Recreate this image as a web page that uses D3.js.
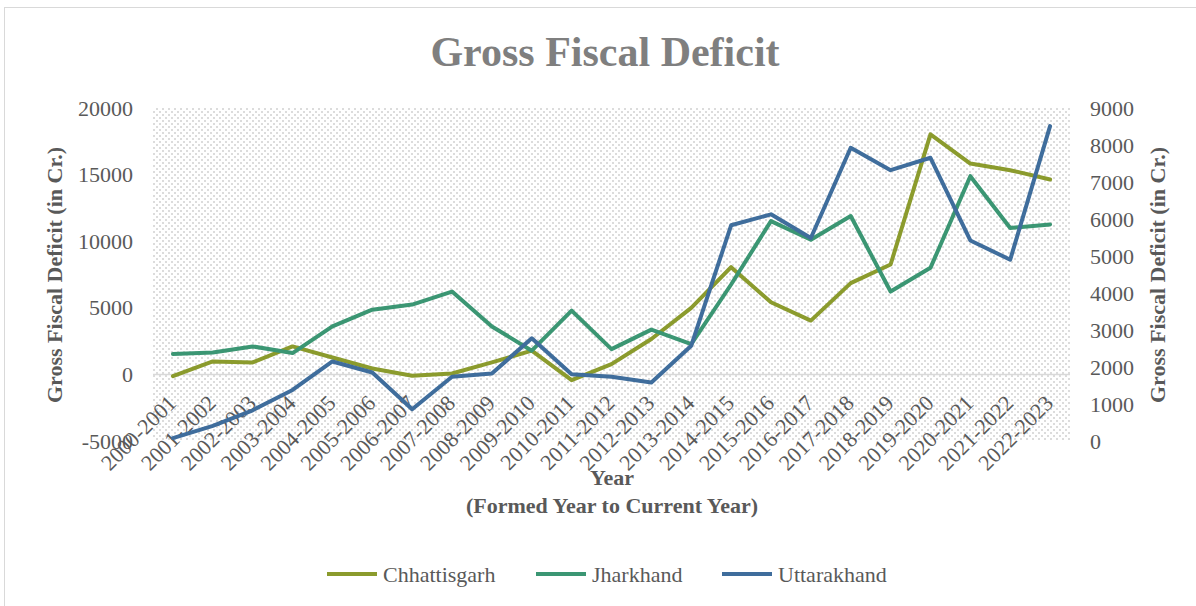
<!DOCTYPE html>
<html>
<head>
<meta charset="utf-8">
<script src="https://cdn.jsdelivr.net/npm/d3@7"></script>
<style>
  body { margin: 0; background: #fff; }
  text { font-family: "Liberation Serif", "Times New Roman", serif; }
</style>
</head>
<body>
<svg id="chart" width="1196" height="606"></svg>
<script>
// data
const years = ["2000-2001", "2001-2002", "2002-2003", "2003-2004", "2004-2005", "2005-2006",
  "2006-2007", "2007-2008", "2008-2009", "2009-2010", "2010-2011", "2011-2012", "2012-2013",
  "2013-2014", "2014-2015", "2015-2016", "2016-2017", "2017-2018", "2018-2019", "2019-2020",
  "2020-2021", "2021-2022", "2022-2023"]

// primary (left) axis
const chhattisgarh = [-130, 970, 900, 2100, 1270, 440, -100, 70, 900, 1780, -430, 775, 2660,
  4990, 8050, 5420, 4040, 6850, 8250, 18020, 15830, 15330, 14630]
const jharkhand = [1530, 1650, 2100, 1600, 3600, 4860, 5240, 6220, 3600, 1780, 4790, 1900, 3360,
  2280, 6750, 11510, 10110, 11890, 6220, 8000, 14880, 10990, 11260]

// secondary (right) axis
const uttarakhand = [80, 410, 830, 1380, 2150, 1850, 860, 1735, 1825, 2775, 1807, 1735, 1580,
  2575, 5830, 6126, 5485, 7925, 7320, 7655, 5420, 4900, 8510]

const leftTicks = [-5000, 0, 5000, 10000, 15000, 20000]
const rightTicks = [0, 1000, 2000, 3000, 4000, 5000, 6000, 7000, 8000, 9000]

const series = [
  { name: 'Chhattisgarh', values: chhattisgarh, color: '#8b9b2d', axis: 'left' },
  { name: 'Jharkhand', values: jharkhand, color: '#3b9673', axis: 'left' },
  { name: 'Uttarakhand', values: uttarakhand, color: '#3f6d9c', axis: 'right' }
]

let svg = d3.select('#chart')
let plot = { left: 153, right: 1070, top: 108, bottom: 441 }

let x = d3.scalePoint().domain(years).range([plot.left, plot.right]).padding(0.5)
let yL = d3.scaleLinear().domain([-5000, 20000]).range([plot.bottom, plot.top])
let yR = d3.scaleLinear().domain([0, 9000]).range([plot.bottom, plot.top])

// chart frame
svg.append('rect')
  .attr('x', 4.5).attr('y', 7.5)
  .attr('width', 1200).attr('height', 620)
  .attr('fill', '#fff')
  .attr('stroke', '#d9d9d9')

// plot area texture
let defs = svg.append('defs')
let pat = defs.append('pattern')
  .attr('id', 'dots')
  .attr('patternUnits', 'userSpaceOnUse')
  .attr('width', 6).attr('height', 6)
pat.append('rect').attr('width', 6).attr('height', 6).attr('fill', '#fff')
;[0, 3].forEach(function (d) {
  pat.append('rect').attr('x', d).attr('y', d).attr('width', 2).attr('height', 2).attr('fill', '#dcdcdc')
})

svg.append('rect')
  .attr('x', plot.left).attr('y', plot.top)
  .attr('width', plot.right - plot.left).attr('height', plot.bottom - plot.top)
  .attr('fill', 'url(#dots)')

// zero line
svg.append('line')
  .attr('x1', plot.left).attr('x2', plot.right)
  .attr('y1', yL(0)).attr('y2', yL(0))
  .attr('stroke', '#d9d9d9')
  .attr('stroke-width', 1.5)

// title
svg.append('text')
  .attr('x', 605).attr('y', 66)
  .attr('text-anchor', 'middle')
  .style('font-size', '42px')
  .style('font-weight', 'bold')
  .style('fill', '#7f7f7f')
  .text('Gross Fiscal Deficit')

// y axes
let plain = function (d) { return String(d) }
let leftAxis = svg.append('g')
  .attr('transform', 'translate(' + plot.left + ',0)')
  .call(d3.axisLeft(yL).tickValues(leftTicks).tickFormat(plain).tickSize(0).tickPadding(20))
let rightAxis = svg.append('g')
  .attr('transform', 'translate(' + plot.right + ',0)')
  .call(d3.axisRight(yR).tickValues(rightTicks).tickFormat(plain).tickSize(0).tickPadding(20))

;[leftAxis, rightAxis].forEach(function (a) {
  a.select('.domain').remove()
  a.selectAll('text')
    .style('font-size', '22px')
    .style('font-family', '"Liberation Serif", serif')
    .style('fill', '#595959')
})

// x axis labels, rotated
let xAxis = svg.append('g')
  .attr('transform', 'translate(0,' + yL(0) + ')')
  .call(d3.axisBottom(x).tickSize(0))
xAxis.select('.domain').remove()
xAxis.selectAll('text')
  .attr('text-anchor', 'end')
  .attr('dy', 0)
  .attr('y', 0)
  .attr('transform', 'translate(4,30) rotate(-45)')
  .style('font-size', '22px')
  .style('font-family', '"Liberation Serif", serif')
  .style('fill', '#595959')

// axis titles
svg.append('text')
  .attr('transform', 'translate(62,275) rotate(-90)')
  .attr('text-anchor', 'middle')
  .style('font-size', '22px').style('font-weight', 'bold').style('fill', '#595959')
  .text('Gross Fiscal Deficit (in Cr.)')

svg.append('text')
  .attr('transform', 'translate(1165,275) rotate(-90)')
  .attr('text-anchor', 'middle')
  .style('font-size', '22px').style('font-weight', 'bold').style('fill', '#595959')
  .text('Gross Fiscal Deficit (in Cr.)')

svg.append('text')
  .attr('x', 612).attr('y', 485)
  .attr('text-anchor', 'middle')
  .style('font-size', '22px').style('font-weight', 'bold').style('fill', '#595959')
  .text('Year')

svg.append('text')
  .attr('x', 612).attr('y', 513)
  .attr('text-anchor', 'middle')
  .style('font-size', '22px').style('font-weight', 'bold').style('fill', '#595959')
  .text('(Formed Year to Current Year)')

// lines
series.forEach(function (s) {
  let y = s.axis === 'left' ? yL : yR
  let line = d3.line()
    .x(function (d, i) { return x(years[i]) })
    .y(function (d) { return y(d) })
  svg.append('path')
    .datum(s.values)
    .attr('d', line)
    .attr('fill', 'none')
    .attr('stroke', s.color)
    .attr('stroke-width', 4)
    .attr('stroke-linejoin', 'round')
    .attr('stroke-linecap', 'round')
})

// legend
let legendX = [327, 536, 722]
let legend = svg.append('g')
series.forEach(function (s, i) {
  let g = legend.append('g').attr('transform', 'translate(' + legendX[i] + ',574)')
  g.append('line')
    .attr('x1', 0).attr('x2', 50)
    .attr('stroke', s.color).attr('stroke-width', 4)
  g.append('text')
    .attr('x', 56).attr('y', 8)
    .style('font-size', '22px').style('fill', '#595959')
    .text(s.name)
})
</script>
</body>
</html>
